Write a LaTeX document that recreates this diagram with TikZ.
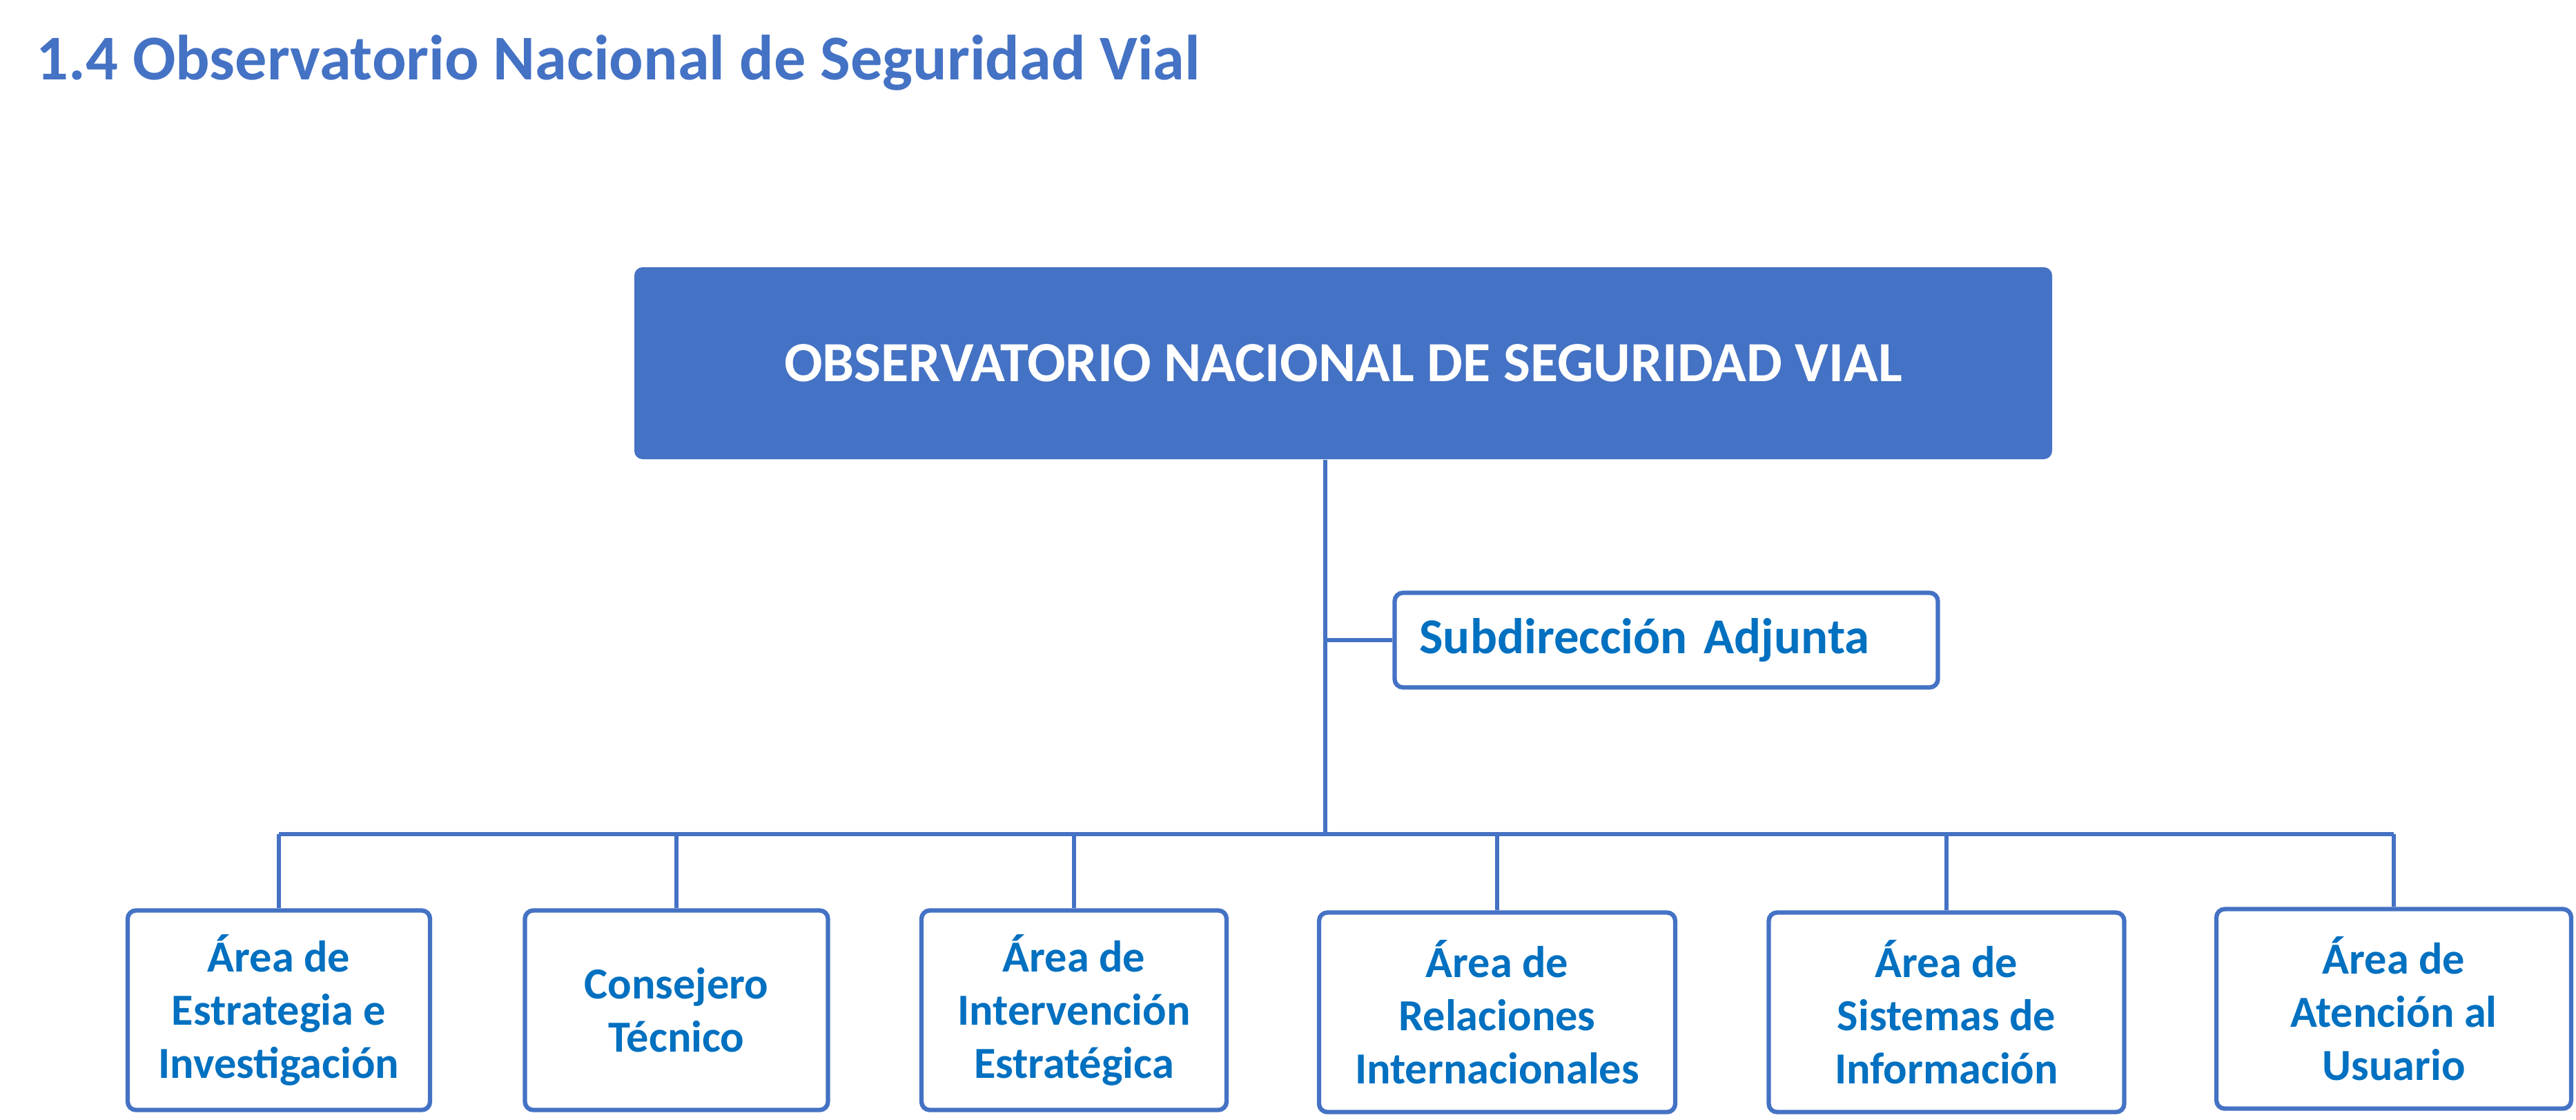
\documentclass[tikz,border=0pt]{standalone}
\usepackage{fontspec}
\setmainfont{Carlito}
\usepackage{tikz}
\definecolor{onsvblue}{HTML}{4472C4}
\definecolor{onsvtext}{HTML}{0070C0}

\begin{document}
\begin{tikzpicture}[every node/.style={rounded corners=1.2mm, inner sep=0pt},
  link/.style={draw=onsvblue, line width=1.8pt},
  area/.style={draw=onsvblue, line width=1.8pt, fill=white, align=center, text=onsvtext, minimum height=2.89cm, font=\fontsize{18.3}{21.9}\selectfont\bfseries}]
  \useasboundingbox (0,0) rectangle (37.32,-16.21);
  \node (titulo) [anchor=base west, text=onsvblue, font=\fontsize{26.3}{32}\selectfont\bfseries] at (0.52,-1.15) {1.4 Observatorio Nacional de Seguridad Vial};
  \node (onsv) [fill=onsvblue, text=white, minimum width=20.54cm, minimum height=2.78cm, font=\fontsize{23.4}{28}\selectfont\bfseries] at (19.46,-5.26) {OBSERVATORIO NACIONAL DE SEGURIDAD VIAL};
  \node (sub) [draw=onsvblue, line width=1.8pt, text=onsvtext, text width=7.15cm, align=left, inner xsep=0.36cm, minimum height=1.37cm, font=\fontsize{20.7}{25}\selectfont\bfseries] at (24.14,-9.27) {Subdirección Adjunta};
  \node (b1) [area, minimum width=4.38cm] at (4.04,-14.63) {Área de\\Estrategia e\\Investigación};
  \node (b2) [area, minimum width=4.39cm] at (9.80,-14.63) {Consejero\\Técnico};
  \node (b3) [area, minimum width=4.42cm] at (15.56,-14.63) {Área de\\Intervención\\Estratégica};
  \node (b4) [area, minimum width=5.16cm] at (21.69,-14.66) {Área de\\Relaciones\\Internacionales};
  \node (b5) [area, minimum width=5.15cm] at (28.20,-14.66) {Área de\\Sistemas de\\Información};
  \node (b6) [area, minimum width=5.14cm] at (34.68,-14.61) {Área de\\Atención al\\Usuario};
  \coordinate (bus) at (19.20,-12.08);
  \draw [link] (onsv.south -| bus) -- (bus);
  \draw [link] (sub.west -| bus) -- (sub.west);
  \draw [link] (b1.north |- bus) -- (b6.north |- bus);
  \draw [link] (b1.north |- bus) -- (b1.north);
  \draw [link] (b2.north |- bus) -- (b2.north);
  \draw [link] (b3.north |- bus) -- (b3.north);
  \draw [link] (b4.north |- bus) -- (b4.north);
  \draw [link] (b5.north |- bus) -- (b5.north);
  \draw [link] (b6.north |- bus) -- (b6.north);
\end{tikzpicture}
\end{document}
